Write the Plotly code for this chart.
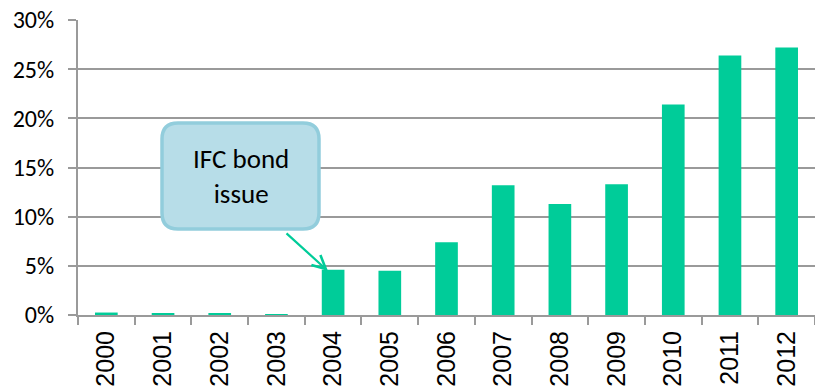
import plotly.graph_objects as go

years = ["2000", "2001", "2002", "2003", "2004", "2005", "2006",
         "2007", "2008", "2009", "2010", "2011", "2012"]
shares = [0.0025, 0.002, 0.0015, 0.001, 0.046, 0.045, 0.074,
          0.132, 0.113, 0.133, 0.214, 0.264, 0.272]
y_ticks = [0, 0.05, 0.10, 0.15, 0.20, 0.25, 0.30]
y_tick_labels = ["0%", "5%", "10%", "15%", "20%", "25%", "30%"]
note_text = "IFC bond<br>issue"

W, H = 815, 389
ML, MR, MT, MB = 78, 0, 20, 74
PW, PH = W - ML - MR, H - MT - MB

GREEN = "#00CC99"
GRID = "#9a9a9a"

fig = go.Figure()
fig.add_trace(go.Bar(x=years, y=shares, marker=dict(color=GREEN, line=dict(width=0)),
                     hoverinfo="skip"))


def px_to_paper(px, py):
    return (px - ML) / PW, (H - MB - py) / PH


def P(px, py):
    a, b = px_to_paper(px, py)
    return f"{a:.5f},{b:.5f}"


# rounded callout box (pixel geometry converted to paper)
x0p, y0p, x1p, y1p, r = 162, 123, 319, 229, 16
path = (f"M{P(x0p + r, y0p)} L{P(x1p - r, y0p)} Q{P(x1p, y0p)} {P(x1p, y0p + r)} "
        f"L{P(x1p, y1p - r)} Q{P(x1p, y1p)} {P(x1p - r, y1p)} "
        f"L{P(x0p + r, y1p)} Q{P(x0p, y1p)} {P(x0p, y1p - r)} "
        f"L{P(x0p, y0p + r)} Q{P(x0p, y0p)} {P(x0p + r, y0p)} Z")
fig.add_shape(type="path", path=path, xref="paper", yref="paper",
              fillcolor="#B7DDE8", line=dict(color="#92CDDC", width=3.5), layer="above")

cx, cy = px_to_paper((x0p + x1p) / 2, (y0p + y1p) / 2)
fig.add_annotation(x=cx, y=cy, xref="paper", yref="paper", text=note_text,
                   xanchor="center", yanchor="middle",
                   showarrow=False, font=dict(family="Carlito, Lato, sans-serif", size=27, color="#000"),
                   align="center")

# arrow to 2004 bar
hx, hy = px_to_paper(328, 271)
fig.add_annotation(x=hx, y=hy, xref="paper", yref="paper", ax=285 - 328, ay=232 - 271,
                   text="", showarrow=True,
                   arrowhead=5, arrowsize=1.2, arrowwidth=2.2, arrowcolor=GREEN)

fig.update_layout(
    width=W, height=H,
    margin=dict(l=ML, r=MR, t=MT, b=MB, pad=0),
    paper_bgcolor="white", plot_bgcolor="white",
    showlegend=False, bargap=0.6,
    xaxis=dict(type="category", showgrid=False, showline=True, linecolor=GRID, linewidth=2,
               ticks="outside", ticklen=8, tickcolor=GRID, tickwidth=2,
               tickson="boundaries", tickangle=-90, automargin=False, ticklabelstandoff=4,
               tickfont=dict(family="Liberation Sans, Arial, sans-serif",
                             size=25, color="#000")),
    yaxis=dict(range=[0, 0.30], tickvals=y_ticks, ticktext=y_tick_labels,
               showgrid=True, gridcolor=GRID, gridwidth=2, automargin=False,
               showline=True, linecolor=GRID, linewidth=2, zeroline=False,
               ticks="outside", ticklen=8, tickcolor=GRID, tickwidth=2, ticklabelstandoff=9,
               tickfont=dict(family="Carlito, Lato, sans-serif", size=24, color="#000")),
)

fig.write_html("out.html")
